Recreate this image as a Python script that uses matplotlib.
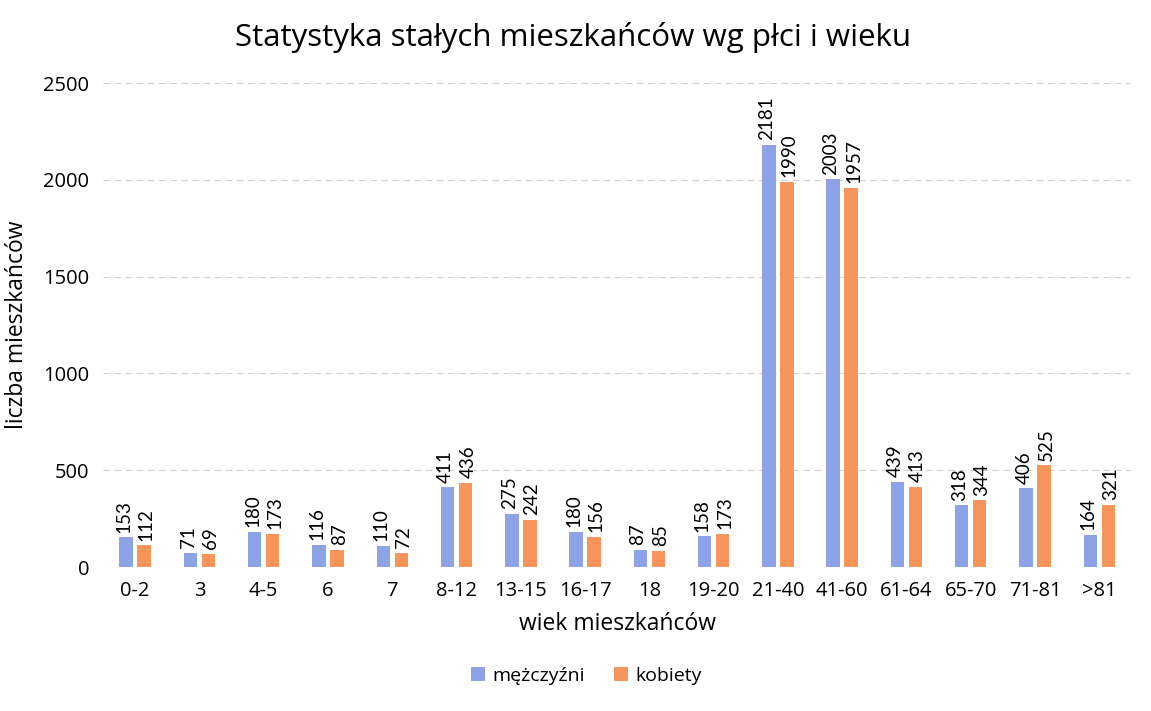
import matplotlib
matplotlib.use('Agg')
import matplotlib.pyplot as plt
import numpy as np

plt.rcParams['font.family'] = ['Open Sans', 'DejaVu Sans']

categories = ['0-2', '3', '4-5', '6', '7', '8-12', '13-15', '16-17', '18',
              '19-20', '21-40', '41-60', '61-64', '65-70', '71-81', '>81']
men = [153, 71, 180, 116, 110, 411, 275, 180, 87, 158, 2181, 2003, 439, 318, 406, 164]
women = [112, 69, 173, 87, 72, 436, 242, 156, 85, 173, 1990, 1957, 413, 344, 525, 321]
y_ticks = [0, 500, 1000, 1500, 2000, 2500]

blue = '#8ea2e6'
orange = '#f7955a'

fig = plt.figure(figsize=(11.51, 7.11), dpi=100)
ax = fig.add_axes([0.0895, 0.2025, 0.8935, 0.6805])

x = np.arange(len(categories))
w = 0.21
ax.bar(x - 0.14, men, w, color=blue, label='mężczyźni', zorder=2)
ax.bar(x + 0.14, women, w, color=orange, label='kobiety', zorder=2)

# value labels, nudged slightly outward so neighbours don't collide
for xi, m, f in zip(x, men, women):
    ax.text(xi - 0.175, m + 25, str(m), rotation=90, ha='center', va='bottom',
            fontsize=13.5, family=['Lato', 'DejaVu Sans'])
    ax.text(xi + 0.175, f + 25, str(f), rotation=90, ha='center', va='bottom',
            fontsize=13.5, family=['Lato', 'DejaVu Sans'])

ax.set_xlim(-0.5, len(categories) - 0.5)
ax.set_ylim(0, 2500)
ax.set_yticks(y_ticks)
ax.set_xticks(x)
ax.set_xticklabels(categories)
ax.tick_params(axis='both', length=0, labelsize=14.5, pad=10)
ax.yaxis.grid(True, color='#d0d0d0', linestyle=(0, (6, 4)), linewidth=0.8, zorder=0)
for s in ax.spines.values():
    s.set_visible(False)

fig.text(0.498, 0.947, 'Statystyka stałych mieszkańców wg płci i wieku',
         fontsize=22.5, ha='center', va='center')
ax.set_xlabel('wiek mieszkańców', fontsize=16.5, labelpad=8)
ax.set_ylabel('liczba mieszkańców', fontsize=16.5, labelpad=10)

ax.legend(loc='center', bbox_to_anchor=(0.47, -0.225), ncol=2, frameon=False,
          fontsize=14, handlelength=0.7, handleheight=0.7, columnspacing=1.5, handletextpad=0.4)

fig.savefig('out.png', dpi=100)
